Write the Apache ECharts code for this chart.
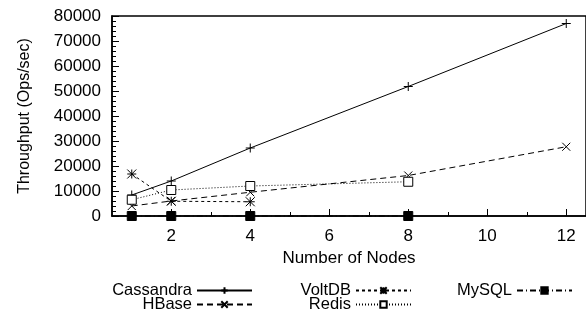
<!DOCTYPE html>
<html>
<head>
<meta charset="utf-8">
<script src="https://cdn.jsdelivr.net/npm/echarts@6/dist/echarts.min.js"></script>
<style>
  html, body { margin: 0; padding: 0; background: #fff; }
  #chart { width: 586px; height: 311px; }
</style>
</head>
<body>
<div id="chart"></div>
<script>
// data
var nodes = [1, 2, 4, 8, 12]
var cassandra = [8400, 14000, 27200, 51800, 77000]
var hbase = [4000, 6000, 9500, 16200, 27700]
var voltdb = [16800, 5900, 5700]
var redis = [6500, 10400, 12000, 13700]
var mysql = [0, 0, 0, 0]
var xTicks = [2, 4, 6, 8, 10, 12]
var xMinorTicks = [1, 3, 5, 7, 9, 11]

function pairs (xs, ys) {
  return ys.map(function (y, i) { return [xs[i], y] })
}

var font = 'Liberation Sans, Arial, Helvetica, sans-serif'
var plus = 'path://M0 5L10 5M5 0L5 10'
var cross = 'path://M0 0L10 10M10 0L0 10'
var star = 'path://M0 0L10 10M10 0L0 10M0 5L10 5M5 0L5 10'

function lineSeries (name, data, symbol, size, dash, fill) {
  return {
    name: name,
    type: 'line',
    data: data,
    symbol: symbol,
    symbolSize: size,
    showAllSymbol: true,
    clip: false,
    lineStyle: { color: '#000', width: 1, type: dash },
    itemStyle: { color: fill, borderColor: '#000', borderWidth: 1 },
    emphasis: { disabled: true },
    animation: false
  }
}

function legendAt (name, right, top) {
  return {
    data: [name],
    right: right,
    top: top,
    align: 'right',
    itemWidth: 55,
    itemHeight: 8,
    textStyle: { fontFamily: font, fontSize: 16.5, color: '#000' },
    selectedMode: false
  }
}

var myChart = echarts.init(document.getElementById('chart'), null, { renderer: 'canvas' })
var option = {
  backgroundColor: '#fff',
  animation: false,
  grid: {
    left: 112,
    top: 16,
    width: 475,
    height: 200,
    show: true,
    borderColor: '#000',
    borderWidth: 1.5
  },
  legend: [
    legendAt('Cassandra', 328, 277),
    legendAt('HBase', 328, 291),
    legendAt('VoltDB', 169, 277),
    legendAt('Redis', 169, 291),
    legendAt('MySQL', 8, 277)
  ],
  xAxis: [
    {
      type: 'value',
      min: 0.5,
      max: 12.5,
      name: 'Number of Nodes',
      nameLocation: 'middle',
      nameGap: 33,
      nameTextStyle: { fontFamily: font, fontSize: 17, color: '#000' },
      axisLine: { show: true, onZero: false, lineStyle: { color: '#000', width: 1.5 } },
      axisTick: { show: true, inside: true, length: 7, customValues: xTicks, lineStyle: { color: '#000' } },
      axisLabel: { customValues: xTicks, margin: 12, fontFamily: font, fontSize: 17, color: '#000' },
      splitLine: { show: false }
    },
    {
      type: 'value',
      position: 'bottom',
      min: 0.5,
      max: 12.5,
      axisLine: { show: false },
      axisTick: { show: true, inside: true, length: 4, customValues: xMinorTicks, lineStyle: { color: '#000' } },
      axisLabel: { show: false },
      splitLine: { show: false }
    }
  ],
  yAxis: {
    type: 'value',
    min: 0,
    max: 80000,
    interval: 10000,
    name: 'Throughput (Ops/sec)',
    nameLocation: 'middle',
    nameGap: 79,
    nameTextStyle: { fontFamily: font, fontSize: 16, color: '#000' },
    axisLine: { show: true, lineStyle: { color: '#000', width: 1.5 } },
    axisTick: { show: true, inside: true, length: 7, lineStyle: { color: '#000' } },
    minorTick: { show: true, splitNumber: 5, length: 4, lineStyle: { color: '#000' } },
    axisLabel: {
      margin: 11,
      fontFamily: font,
      fontSize: 17,
      color: '#000',
      formatter: function (v) { return String(v) }
    },
    splitLine: { show: false }
  },
  series: [
    lineSeries('Cassandra', pairs(nodes, cassandra), plus, 9, 'solid', 'transparent'),
    lineSeries('HBase', pairs(nodes, hbase), cross, 8, [6, 4], 'transparent'),
    lineSeries('VoltDB', pairs(nodes, voltdb), star, 9, [3, 3], 'transparent'),
    lineSeries('Redis', pairs(nodes, redis), 'rect', 9, [1, 2], '#fff'),
    lineSeries('MySQL', pairs(nodes, mysql), 'rect', 9, [6, 3, 1, 3], '#000')
  ]
}
myChart.setOption(option)
</script>
</body>
</html>
